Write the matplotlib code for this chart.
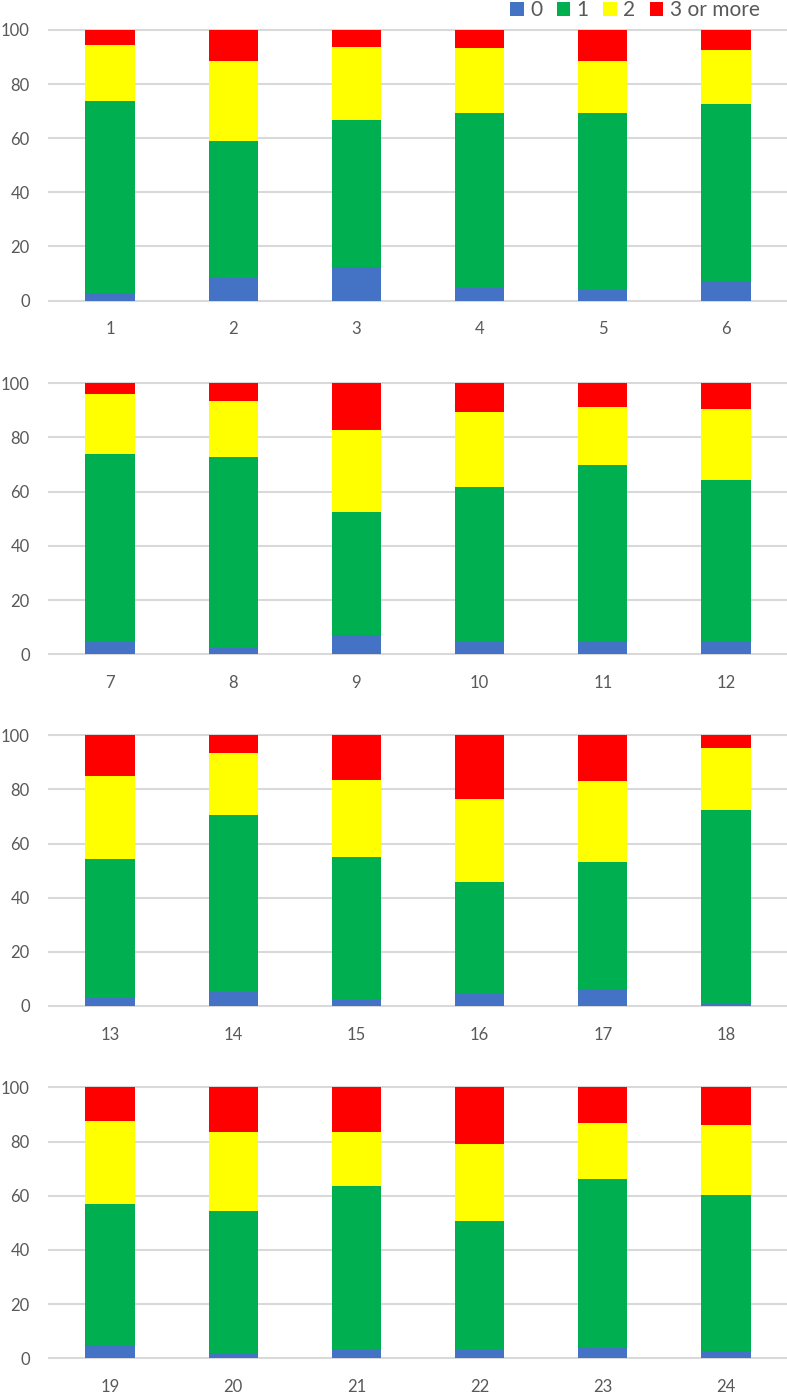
import numpy as np
import matplotlib
matplotlib.use("Agg")
import matplotlib.pyplot as plt
from matplotlib.patches import Patch

plt.rcParams['font.family'] = ['Lato', 'DejaVu Sans']

# categories 1..24, shown 6 per panel
categories = [str(i) for i in range(1, 25)]
series_names = ["0", "1", "2", "3 or more"]
colors = ["#4472C4", "#00B050", "#FFFF00", "#FF0000"]

# percentage share of each group per category (stacked)
zero = [2.7, 8.4, 12.3, 4.7, 3.8, 7.1,
        4.4, 2.5, 7.0, 4.4, 4.9, 4.9,
        3.1, 5.0, 2.3, 4.3, 6.2, 0.7,
        5.0, 1.8, 3.1, 3.1, 3.7, 2.6]
one = [71.1, 50.4, 54.3, 64.5, 65.4, 65.4,
       69.5, 70.2, 45.5, 57.2, 65.1, 59.3,
       51.2, 65.6, 52.7, 41.6, 46.9, 71.8,
       52.1, 52.7, 60.5, 47.5, 62.5, 57.7]
two = [20.8, 29.9, 27.3, 24.0, 19.5, 20.1,
       22.0, 20.7, 30.4, 27.8, 21.4, 26.5,
       30.7, 22.7, 28.6, 30.6, 29.9, 22.8,
       30.5, 29.0, 19.9, 28.4, 20.8, 25.9]
three_plus = [5.4, 11.3, 6.1, 6.8, 11.3, 7.4,
              4.1, 6.6, 17.1, 10.6, 8.6, 9.3,
              15.0, 6.7, 16.4, 23.5, 17.0, 4.7,
              12.4, 16.5, 16.5, 21.0, 13.0, 13.8]

series = [zero, one, two, three_plus]

W, H = 787, 1393
fig = plt.figure(figsize=(W / 100, H / 100), dpi=100)

# panel pixel extents (top of plot area, bottom of plot area)
panel_px = [(30, 300.5), (383.3, 654.3), (735.3, 1006), (1087.3, 1358.3)]
left_px, right_px = 48.5, 787.5

for p, (top, bot) in enumerate(panel_px):
    ax = fig.add_axes([left_px / W, 1 - bot / H, (right_px - left_px) / W, (bot - top) / H])
    sl = slice(p * 6, p * 6 + 6)
    x = np.arange(6)
    bottom = np.zeros(6)
    for vals, c in zip(series, colors):
        v = np.array(vals[sl])
        ax.bar(x, v, width=0.4, bottom=bottom, color=c, zorder=3)
        bottom += v
    ax.set_xlim(-0.5, 5.5)
    ax.set_ylim(0, 100)
    ax.set_yticks([0, 20, 40, 60, 80, 100])
    ax.set_xticks(x)
    ax.set_xticklabels(categories[sl])
    ax.grid(axis='y', color='#D9D9D9', linewidth=1.5, zorder=0)
    for gl in ax.get_ygridlines():
        gl.set_clip_on(False)
    for s in ax.spines.values():
        s.set_visible(False)
    ax.tick_params(length=0, labelsize=12, labelcolor='#595959')
    ax.tick_params(axis='y', pad=13.5)
    ax.tick_params(axis='x', pad=15)

handles = [Patch(facecolor=c, label=n) for c, n in zip(colors, series_names)]
fig.legend(handles=handles, loc='center right', bbox_to_anchor=(770 / W, 1 - 10 / H),
           ncol=4, frameon=False, fontsize=15, handlelength=0.65, handleheight=0.65,
           handletextpad=0.3, columnspacing=0.7, labelcolor='#595959', borderpad=0)

fig.savefig("out.png", dpi=100)
